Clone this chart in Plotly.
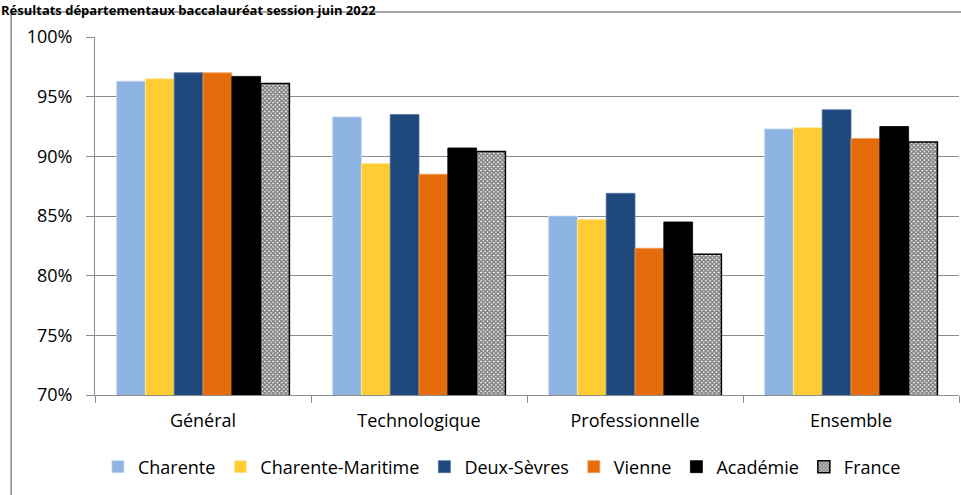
import plotly.graph_objects as go

categories = ["Général", "Technologique", "Professionnelle", "Ensemble"]
series_names = ["Charente", "Charente-Maritime", "Deux-Sèvres", "Vienne", "Académie", "France"]
charente = [0.963, 0.933, 0.850, 0.923]
charente_maritime = [0.965, 0.894, 0.847, 0.924]
deux_sevres = [0.970, 0.935, 0.869, 0.939]
vienne = [0.970, 0.885, 0.823, 0.915]
academie = [0.967, 0.907, 0.845, 0.925]
france = [0.961, 0.904, 0.818, 0.912]
y_ticks = [0.70, 0.75, 0.80, 0.85, 0.90, 0.95, 1.00]

values = [charente, charente_maritime, deux_sevres, vienne, academie, france]
colors = ["#8EB4E3", "#FFCD33", "#1F497D", "#E46C0A", "#000000", "#FFFFFF"]
line_colors = ["#C6D9F1", "#FFE699", "#4F6F9F", "#F0A060", "#000000", "#000000"]

FONT = "Open Sans"

fig = go.Figure()
for name, vals, col, lc in zip(series_names, values, colors, line_colors):
    if name == "France":
        marker = dict(color="#FFFFFF", line=dict(color="#000000", width=1.5),
                      pattern=dict(shape="x", size=3, solidity=0.75, fgcolor="#000000", bgcolor="#FFFFFF"))
    else:
        marker = dict(color=col, line=dict(color=lc, width=0.8))
    fig.add_trace(go.Bar(name=name, x=categories, y=vals, marker=marker))

fig.update_layout(
    width=961, height=495,
    margin=dict(l=95, r=2, t=37, b=100, autoexpand=False),
    paper_bgcolor="white", plot_bgcolor="white",
    barmode="group", bargap=0.2, bargroupgap=0,
    font=dict(family=FONT, size=17, color="#000000"),
    showlegend=True,
    legend=dict(orientation="h", x=0.471, xanchor="center", y=-0.201, yanchor="middle",
                font=dict(family=FONT, size=18), itemclick=False, traceorder="normal",
                tracegroupgap=0),
    yaxis=dict(range=[0.70, 1.00], tickvals=y_ticks, tickformat=".0%",
               showgrid=True, gridcolor="#8C8C8C", gridwidth=1,
               showline=True, linecolor="#8C8C8C", linewidth=1,
               ticks="outside", ticklen=8, tickcolor="#8C8C8C", ticklabelstandoff=10,
               tickfont=dict(family=FONT, size=18), zeroline=False),
    xaxis=dict(showline=True, linecolor="#8C8C8C", linewidth=1, mirror=False,
               ticks="outside", ticklen=7, tickcolor="#8C8C8C", tickson="boundaries",
               ticklabelstandoff=9, tickfont=dict(family=FONT, size=18)),
)

# outer chart frame
fig.add_shape(type="rect", xref="paper", yref="paper", x0=-0.097, x1=1.2, y0=-0.5, y1=1.0698,
              line=dict(color="#8C8C8C", width=1.5), fillcolor="rgba(0,0,0,0)", layer="below")

fig.add_annotation(text="<b>Résultats départementaux baccalauréat session juin 2022</b>",
                   xref="paper", yref="paper", x=-0.11, y=1.1034, xanchor="left", yanchor="top",
                   showarrow=False, borderpad=0, font=dict(family=FONT, size=13, color="#000000"))

fig.write_html("out.html", config={"displayModeBar": False},
               post_script="document.body.style.margin='0';")
